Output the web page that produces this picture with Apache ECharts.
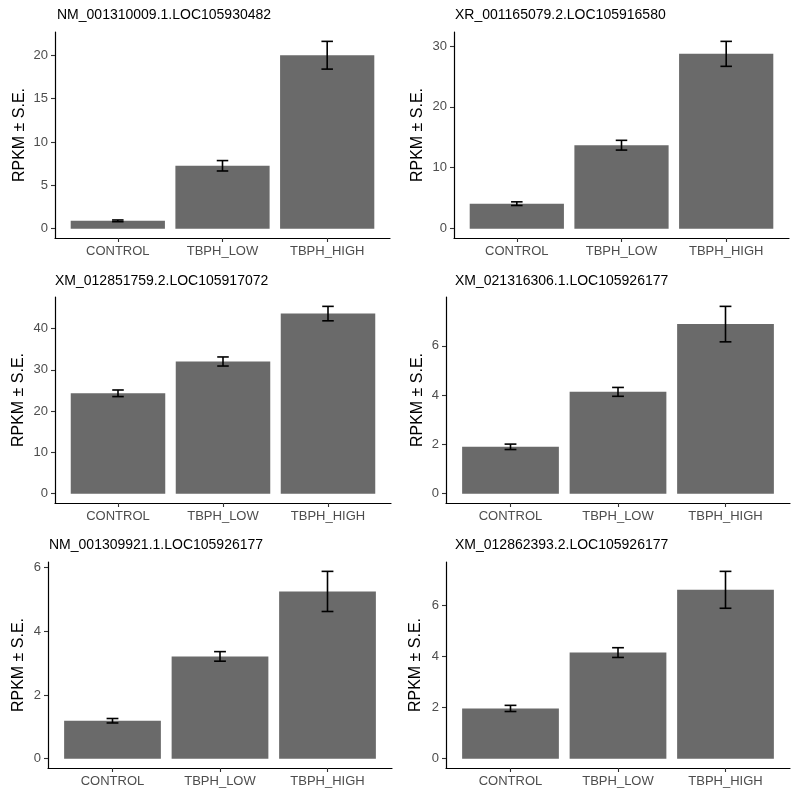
<!DOCTYPE html>
<html>
<head>
<meta charset="utf-8">
<script src="https://cdn.jsdelivr.net/npm/echarts@6/dist/echarts.min.js"></script>
<style>
html,body{margin:0;padding:0;background:#fff;}
#chart{width:800px;height:797px;}
</style>
</head>
<body>
<div id="chart"></div>
<script>
const categories = ['CONTROL', 'TBPH_LOW', 'TBPH_HIGH'];
const panelTitles = [
  'NM_001310009.1.LOC105930482',
  'XR_001165079.2.LOC105916580',
  'XM_012851759.2.LOC105917072',
  'XM_021316306.1.LOC105926177',
  'NM_001309921.1.LOC105926177',
  'XM_012862393.2.LOC105926177'
];
const means = [
  [0.9, 7.25, 20.0],
  [4.1, 13.7, 28.7],
  [24.3, 32.0, 43.6],
  [1.9, 4.13, 6.88],
  [1.19, 3.21, 5.25],
  [1.96, 4.14, 6.59]
];
const stdErrors = [
  [0.1, 0.6, 1.6],
  [0.3, 0.8, 2.05],
  [0.8, 1.1, 1.75],
  [0.11, 0.18, 0.72],
  [0.07, 0.15, 0.63],
  [0.12, 0.19, 0.72]
];
const yTicks = [
  [0, 5, 10, 15, 20],
  [0, 10, 20, 30],
  [0, 10, 20, 30, 40],
  [0, 2, 4, 6],
  [0, 2, 4, 6],
  [0, 2, 4, 6]
];
const yAxisTitle = 'RPKM ± S.E.';

// layout (px)
const grids = [
  {left: 55, top: 32, width: 335, height: 206},
  {left: 454, top: 32, width: 335, height: 206},
  {left: 55, top: 297, width: 336, height: 206},
  {left: 446, top: 297, width: 344, height: 206},
  {left: 48, top: 562, width: 344, height: 206},
  {left: 446, top: 562, width: 344, height: 206}
];
const titlePos = [[57, 15], [455, 15], [55, 281], [455, 281], [49, 545], [455, 545]];
const nameGaps = [27, 28, 28, 20, 21, 22];

const FONT = '"Liberation Sans", Arial, sans-serif';
const BAR_COLOR = '#6a6a6a';
const BAR_HALF = 0.45;
const CAP_HALF = 0.055;

function renderBarErr(params, api) {
  const x = api.value(0), m = api.value(1), se = api.value(2);
  const b0 = api.coord([x - BAR_HALF, 0]);
  const b1 = api.coord([x + BAR_HALF, m]);
  const eTop = api.coord([x, m + se]);
  const eBot = api.coord([x, m - se]);
  const cL = api.coord([x - CAP_HALF, m + se]);
  const cR = api.coord([x + CAP_HALF, m + se]);
  const lineStyle = {stroke: '#000', lineWidth: 1.6};
  return {
    type: 'group',
    children: [
      {type: 'rect', shape: {x: b0[0], y: b1[1], width: b1[0] - b0[0], height: b0[1] - b1[1]},
       style: {fill: BAR_COLOR}},
      {type: 'line', shape: {x1: eTop[0], y1: eTop[1], x2: eBot[0], y2: eBot[1]}, style: lineStyle},
      {type: 'line', shape: {x1: cL[0], y1: eTop[1], x2: cR[0], y2: eTop[1]}, style: lineStyle},
      {type: 'line', shape: {x1: cL[0], y1: eBot[1], x2: cR[0], y2: eBot[1]}, style: lineStyle}
    ]
  };
}

const option = {
  animation: false,
  backgroundColor: '#fff',
  grid: [], xAxis: [], yAxis: [], series: [], graphic: []
};

for (let i = 0; i < 6; i++) {
  const g = grids[i];
  option.grid.push({left: g.left, top: g.top, width: g.width, height: g.height,
    containLabel: false, outerBoundsMode: 'none'});
  let topVal = 0;
  for (let j = 0; j < 3; j++) topVal = Math.max(topVal, means[i][j] + stdErrors[i][j]);
  option.xAxis.push({
    type: 'value', gridIndex: i, min: 0.4, max: 3.6,
    splitLine: {show: false},
    axisLine: {show: true, onZero: false, lineStyle: {color: '#000', width: 1.2}},
    axisTick: {show: true, customValues: [1, 2, 3], length: 4, lineStyle: {color: '#333', width: 1.1}},
    axisLabel: {show: true, customValues: [1, 2, 3], margin: 7,
      formatter: v => categories[Math.round(v) - 1] || '',
      color: '#4d4d4d', fontSize: 13, fontFamily: FONT}
  });
  option.yAxis.push({
    type: 'value', gridIndex: i, min: -0.05 * topVal, max: 1.05 * topVal,
    name: yAxisTitle, nameLocation: 'middle', nameRotate: 90, nameGap: nameGaps[i],
    nameMoveOverlap: false,
    nameTextStyle: {color: '#000', fontSize: 16, fontFamily: FONT},
    splitLine: {show: false},
    axisLine: {show: true, lineStyle: {color: '#000', width: 1.2}},
    axisTick: {show: true, customValues: yTicks[i], length: 4, lineStyle: {color: '#333', width: 1.1}},
    axisLabel: {show: true, customValues: yTicks[i], margin: 7,
      formatter: v => String(v),
      color: '#4d4d4d', fontSize: 13, fontFamily: FONT}
  });
  option.series.push({
    type: 'custom', xAxisIndex: i, yAxisIndex: i,
    renderItem: renderBarErr,
    encode: {x: 0, y: 1},
    data: categories.map((c, j) => [j + 1, means[i][j], stdErrors[i][j]]),
    clip: false
  });
  option.graphic.push({
    type: 'text', x: titlePos[i][0], y: titlePos[i][1],
    style: {text: panelTitles[i], fill: '#000', font: '14px ' + FONT,
      verticalAlign: 'middle', textVerticalAlign: 'middle', align: 'left'}
  });
}

const chart = echarts.init(document.getElementById('chart'), null, {renderer: 'canvas'});
chart.setOption(option);
</script>
</body>
</html>
